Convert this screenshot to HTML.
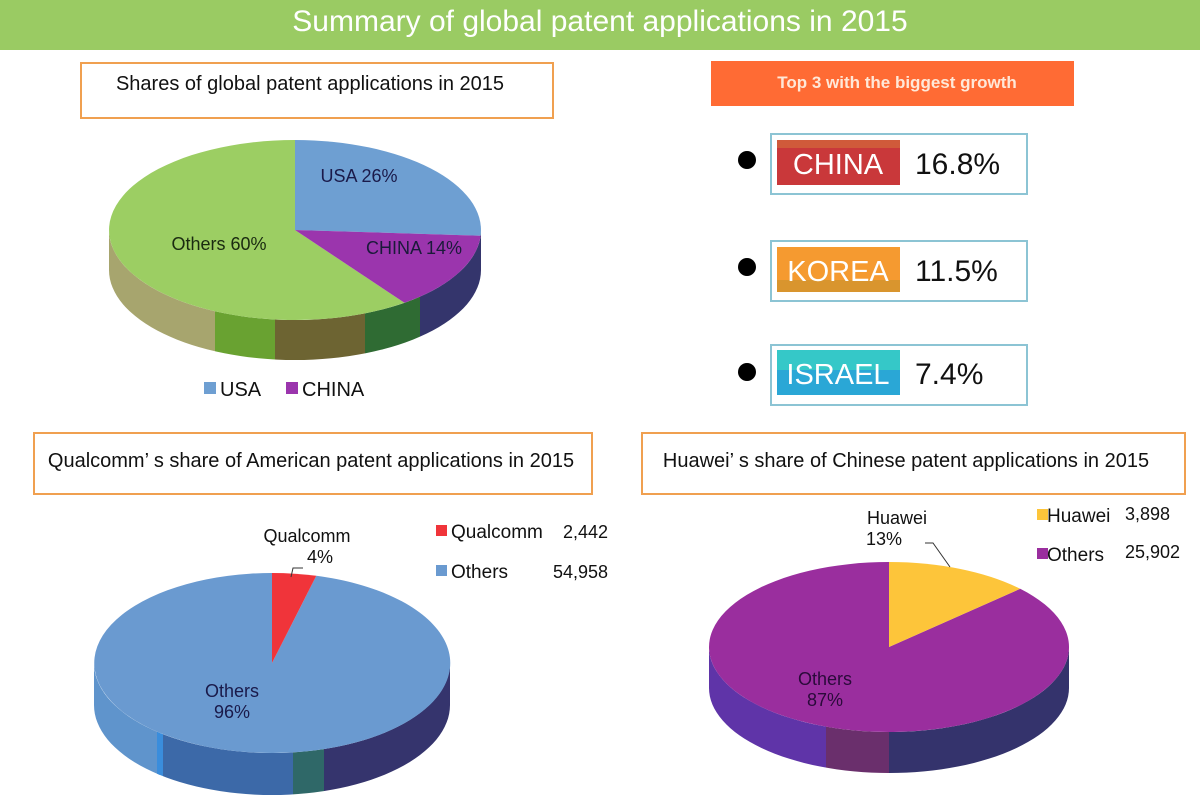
<!DOCTYPE html>
<html><head><meta charset="utf-8"><style>
html,body{margin:0;padding:0;background:#fff;}
svg{display:block;font-family:"Liberation Sans","Noto Sans CJK SC",sans-serif;}
</style></head><body>
<svg width="1200" height="800" viewBox="0 0 1200 800" xmlns="http://www.w3.org/2000/svg">
<defs>
<clipPath id="s1"><path d="M109,230 A186,90 0 0 0 481,230 L481,270 A186,90 0 0 1 109,270 Z"/></clipPath>
<clipPath id="s3"><path d="M94,663 A178,90 0 0 0 450,663 L450,705 A178,90 0 0 1 94,705 Z"/></clipPath>
<clipPath id="s4"><path d="M709,647 A180,85 0 0 0 1069,647 L1069,688 A180,85 0 0 1 709,688 Z"/></clipPath>
</defs>
<rect x="0" y="0" width="1200" height="50" fill="#9acb63"/>
<text x="600" y="31" fill="#fff" font-size="30" text-anchor="middle">Summary of global patent applications in 2015</text>

<!-- box 1 -->
<rect x="81" y="63" width="472" height="55" fill="#fff" stroke="#f0a050" stroke-width="2"/>
<text x="310" y="90" font-size="20" text-anchor="middle" fill="#111">Shares of global patent applications in 2015</text>

<!-- pie 1 -->
<g clip-path="url(#s1)">
<rect x="100" y="220" width="115" height="150" fill="#a7a56e"/>
<rect x="215" y="220" width="60" height="150" fill="#69a231"/>
<rect x="275" y="220" width="90" height="150" fill="#6d6432"/>
<rect x="365" y="220" width="55" height="150" fill="#2f6b33"/>
<rect x="420" y="220" width="70" height="150" fill="#34356c"/>
</g>
<path d="M295,230 L404.4,302.8 A186,90 0 1 1 295,140 Z" fill="#9cce63"/>
<path d="M295,230 L295,140 A186,90 0 0 1 480.6,235.7 Z" fill="#6e9fd2"/>
<path d="M295,230 L480.6,235.7 A186,90 0 0 1 404.4,302.8 Z" fill="#9b35ad"/>
<text x="359" y="182" font-size="18" text-anchor="middle" fill="#1a1a4a">USA 26%</text>
<text x="414" y="254" font-size="18" text-anchor="middle" fill="#1a1a3a">CHINA 14%</text>
<text x="219" y="250" font-size="18" text-anchor="middle" fill="#1a2a10">Others 60%</text>
<rect x="204" y="382" width="12" height="12" fill="#6e9fd2"/>
<text x="220" y="396" font-size="20" fill="#111">USA</text>
<rect x="286" y="382" width="12" height="12" fill="#9b35ad"/>
<text x="302" y="396" font-size="20" fill="#111">CHINA</text>

<!-- right top -->
<rect x="711" y="61" width="363" height="45" fill="#ff6b34"/>
<text x="897" y="88" font-size="17" font-weight="bold" text-anchor="middle" fill="#ffe8d8">Top 3 with the biggest growth</text>

<circle cx="747" cy="160" r="9" fill="#000"/>
<rect x="771" y="134" width="256" height="60" fill="#fff" stroke="#8cc4d4" stroke-width="2"/>
<rect x="777" y="140" width="123" height="45" fill="#c9383a"/>
<rect x="777" y="140" width="123" height="8" fill="#d05a3a"/>
<text x="838" y="174" font-size="29" text-anchor="middle" fill="#fff">CHINA</text>
<text x="915" y="174" font-size="30" fill="#111">16.8%</text>

<circle cx="747" cy="267" r="9" fill="#000"/>
<rect x="771" y="241" width="256" height="60" fill="#fff" stroke="#8cc4d4" stroke-width="2"/>
<rect x="777" y="247" width="123" height="45" fill="#f59a30"/>
<rect x="777" y="280" width="123" height="12" fill="#d9952e"/>
<text x="838" y="281" font-size="29" text-anchor="middle" fill="#fff">KOREA</text>
<text x="915" y="281" font-size="30" fill="#111">11.5%</text>

<circle cx="747" cy="372" r="9" fill="#000"/>
<rect x="771" y="345" width="256" height="60" fill="#fff" stroke="#8cc4d4" stroke-width="2"/>
<rect x="777" y="350" width="123" height="45" fill="#2aa7d6"/>
<rect x="777" y="350" width="123" height="20" fill="#35c8c8"/>
<text x="838" y="384" font-size="29" text-anchor="middle" fill="#fff">ISRAEL</text>
<text x="915" y="384" font-size="30" fill="#111">7.4%</text>

<!-- box 3 -->
<rect x="34" y="433" width="558" height="61" fill="#fff" stroke="#f0a050" stroke-width="2"/>
<text x="311" y="467" font-size="20" text-anchor="middle" fill="#111">Qualcomm’ s share of American patent applications in 2015</text>
<!-- box 4 -->
<rect x="642" y="433" width="543" height="61" fill="#fff" stroke="#f0a050" stroke-width="2"/>
<text x="906" y="467" font-size="20" text-anchor="middle" fill="#111">Huawei’ s share of Chinese patent applications in 2015</text>

<!-- pie 3 -->
<g clip-path="url(#s3)">
<rect x="90" y="650" width="70" height="160" fill="#5f94cc"/>
<rect x="157" y="650" width="6" height="160" fill="#3a8ddc"/>
<rect x="163" y="650" width="130" height="160" fill="#3c69a8"/>
<rect x="293" y="650" width="31" height="160" fill="#2f6868"/>
<rect x="324" y="650" width="130" height="160" fill="#35346d"/>
</g>
<path d="M272,663 L316.3,575.8 A178,90 0 1 1 272,573 Z" fill="#6a9ad0"/>
<path d="M272,663 L272,573 A178,90 0 0 1 316.3,575.8 Z" fill="#f0343a"/>
<text x="232" y="697" font-size="18" text-anchor="middle" fill="#1a1a4a">Others</text>
<text x="232" y="718" font-size="18" text-anchor="middle" fill="#1a1a4a">96%</text>
<text x="307" y="542" font-size="18" text-anchor="middle" fill="#111">Qualcomm</text>
<text x="320" y="563" font-size="18" text-anchor="middle" fill="#111">4%</text>
<path d="M291,577 L293,568 L303,568" fill="none" stroke="#333" stroke-width="1"/>
<rect x="436" y="525" width="11" height="11" fill="#f0343a"/>
<text x="451" y="538" font-size="19" fill="#111">Qualcomm</text>
<text x="608" y="538" font-size="18" fill="#111" text-anchor="end">2,442</text>
<rect x="436" y="565" width="11" height="11" fill="#6a9ad0"/>
<text x="451" y="578" font-size="19" fill="#111">Others</text>
<text x="608" y="578" font-size="18" fill="#111" text-anchor="end">54,958</text>

<!-- pie 4 -->
<g clip-path="url(#s4)">
<rect x="700" y="640" width="126" height="160" fill="#5f34a8"/>
<rect x="826" y="640" width="63" height="160" fill="#6a2f6c"/>
<rect x="889" y="640" width="190" height="160" fill="#34336c"/>
</g>
<path d="M889,647 L1020.2,588.8 A180,85 0 1 1 889,562 Z" fill="#9a2e9e"/>
<path d="M889,647 L889,562 A180,85 0 0 1 1020.2,588.8 Z" fill="#fdc53a"/>
<text x="825" y="685" font-size="18" text-anchor="middle" fill="#2a0a3a">Others</text>
<text x="825" y="706" font-size="18" text-anchor="middle" fill="#2a0a3a">87%</text>
<text x="897" y="524" font-size="18" text-anchor="middle" fill="#111">Huawei</text>
<text x="884" y="545" font-size="18" text-anchor="middle" fill="#111">13%</text>
<path d="M925,543 L933,543 L950,567" fill="none" stroke="#333" stroke-width="1"/>
<rect x="1037" y="509" width="11" height="11" fill="#fdc53a"/>
<text x="1047" y="522" font-size="19" fill="#111">Huawei</text>
<text x="1125" y="520" font-size="18" fill="#111">3,898</text>
<rect x="1037" y="548" width="11" height="11" fill="#9a2e9e"/>
<text x="1047" y="561" font-size="19" fill="#111">Others</text>
<text x="1125" y="558" font-size="18" fill="#111">25,902</text>
</svg>
</body></html>
